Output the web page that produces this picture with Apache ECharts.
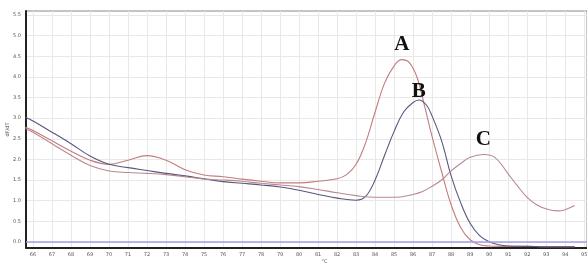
<!DOCTYPE html>
<html>
<head>
<meta charset="UTF-8">
<title>melt curve</title>
<script src="https://cdn.jsdelivr.net/npm/echarts@6/dist/echarts.min.js"></script>
<style>
html,body{margin:0;padding:0;background:#fff;}
</style>
</head>
<body>
	<div id="main" style="width: 587px;height:264px;"></div>
	<script type="text/javascript">
	// temperature (x) for each curve
	var tempA = [65.6,66,67,68,69,70,71,72,73,74,75,76,77,78,79,80,81,82,82.5,83,83.5,84,84.5,85,85.4,85.8,86.2,86.6,87,87.5,88,88.5,89,89.5,90,91,92,93,94,94.5];
	var valA  = [2.78,2.70,2.45,2.20,1.98,1.88,1.98,2.09,1.98,1.75,1.62,1.58,1.52,1.47,1.43,1.43,1.47,1.53,1.63,1.88,2.40,3.15,3.85,4.27,4.42,4.35,4.00,3.30,2.55,1.70,0.90,0.35,0.05,-0.07,-0.10,-0.11,-0.11,-0.12,-0.12,-0.12];

	var tempB = [65.6,66,67,68,69,70,71,72,73,74,75,76,77,78,79,80,81,82,83,83.5,84,84.5,85,85.5,86,86.3,86.7,87,87.5,88,88.5,89,89.5,90,90.5,91,92,93,94,94.5];
	var valB  = [3.02,2.93,2.66,2.38,2.08,1.88,1.80,1.73,1.66,1.60,1.53,1.46,1.42,1.38,1.33,1.25,1.15,1.06,1.01,1.10,1.50,2.10,2.68,3.15,3.38,3.44,3.32,3.05,2.45,1.60,0.95,0.45,0.15,0.00,-0.07,-0.10,-0.11,-0.12,-0.12,-0.12];

	var tempC = [65.6,66,67,68,69,70,71,72,73,74,75,76,77,78,79,80,81,82,83,84,85,86,86.5,87,87.5,88,88.5,89,89.7,90.3,91,91.5,92,92.5,93,93.6,94,94.5];
	var valC  = [2.75,2.66,2.38,2.10,1.85,1.72,1.68,1.66,1.63,1.58,1.52,1.50,1.47,1.42,1.38,1.34,1.27,1.19,1.12,1.08,1.08,1.15,1.22,1.35,1.50,1.72,1.90,2.05,2.12,2.05,1.65,1.35,1.08,0.90,0.80,0.75,0.78,0.88];

	var xTicks = [66,67,68,69,70,71,72,73,74,75,76,77,78,79,80,81,82,83,84,85,86,87,88,89,90,91,92,93,94,95];
	var yTicks = [0,0.5,1,1.5,2,2.5,3,3.5,4,4.5,5,5.5];

	var peaks = [
		{name: 'A', coord: [85.4, 4.42]},
		{name: 'B', coord: [86.3, 3.44]},
		{name: 'C', coord: [89.7, 2.12]}
	];

	function pairs(xs, ys) {
		var out = [];
		for (var i = 0; i < xs.length; i++) out.push([xs[i], ys[i]]);
		return out;
	}

	function peakMark(p, dy) {
		return {
			symbol: 'circle',
			symbolSize: 0,
			data: [{
				coord: p.coord,
				label: {
					show: true,
					formatter: p.name,
					position: 'top',
					distance: dy,
					color: '#111',
					fontSize: 21,
					fontWeight: 'bold',
					fontFamily: 'Liberation Serif'
				}
			}]
		};
	}

	var chart = echarts.init(document.getElementById('main'));
	var small = {fontSize: 5, color: '#555', fontFamily: 'DejaVu Sans'};

	chart.setOption({
		animation: false,
		grid: {
			left: 26, right: 0, top: 11, bottom: 16,
			outerBoundsMode: 'none',
			containLabel: false,
			show: true, borderColor: '#888', borderWidth: 1
		},
		xAxis: {
			type: 'value',
			min: 65.63, max: 95.15,
			name: '°C',
			nameLocation: 'middle',
			nameGap: 11,
			nameMoveOverlap: false,
			nameTextStyle: Object.assign({padding: [0, 0, 0, 36]}, small),
			axisLine: {show: true, onZero: false, lineStyle: {color: '#222', width: 2}},
			axisTick: {show: false, customValues: xTicks},
			axisLabel: Object.assign({customValues: xTicks, margin: 4}, small),
			splitLine: {show: true, lineStyle: {color: '#e8e8e8', width: 1}}
		},
		yAxis: {
			type: 'value',
			min: -0.15, max: 5.6,
			name: 'dF/dT',
			nameLocation: 'middle',
			nameGap: 16,
			nameMoveOverlap: false,
			nameRotate: 90,
			nameTextStyle: small,
			axisLine: {show: true, onZero: false, lineStyle: {color: '#222', width: 2}},
			axisTick: {show: false, customValues: yTicks},
			axisLabel: Object.assign({
				customValues: yTicks, margin: 5,
				formatter: function (v) { return v.toFixed(1); }
			}, small),
			splitLine: {show: true, lineStyle: {color: '#e8e8e8', width: 1}}
		},
		series: [
			{
				name: 'A', type: 'line', smooth: 0.4, symbol: 'none',
				data: pairs(tempA, valA),
				lineStyle: {color: '#c47c7c', width: 1.1},
				markPoint: peakMark(peaks[0], 5)
			},
			{
				name: 'B', type: 'line', smooth: 0.4, symbol: 'none',
				data: pairs(tempB, valB),
				lineStyle: {color: '#56567e', width: 1.1},
				markPoint: peakMark(peaks[1], -2)
			},
			{
				name: 'C', type: 'line', smooth: 0.4, symbol: 'none',
				data: pairs(tempC, valC),
				lineStyle: {color: '#b88892', width: 1.1},
				markPoint: peakMark(peaks[2], 4),
				markLine: {
					silent: true, symbol: 'none', label: {show: false},
					emphasis: {disabled: true},
					data: [{
						yAxis: 0,
						lineStyle: {color: '#a0a0e6', width: 1.5, type: 'solid', opacity: 1}
					}]
				}
			}
		]
	});
	</script>
</body>
</html>
